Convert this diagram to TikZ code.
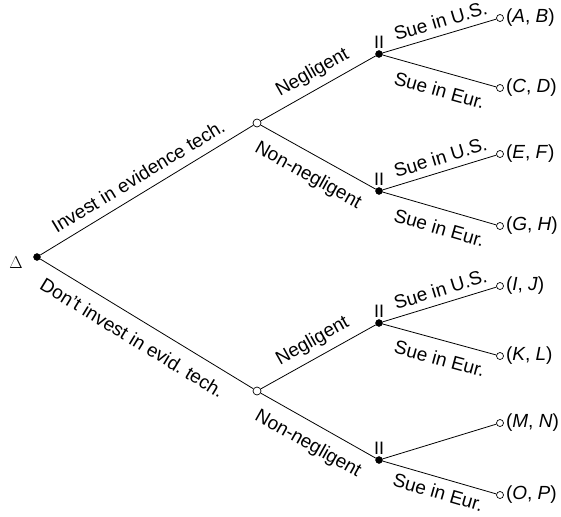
\documentclass[tikz,border=0pt]{standalone}
\usepackage{fontspec}
\setmainfont{Liberation Sans}
\frenchspacing
\begin{document}
\begin{tikzpicture}[x=1pt,y=-1pt,
  dot/.style={circle,fill=black,draw=black,inner sep=0pt,minimum size=7pt},
  chance/.style={circle,fill=white,draw=black,line width=0.7pt,inner sep=0pt,minimum size=8pt},
  term/.style={circle,fill=white,draw=black,line width=0.7pt,inner sep=0pt,minimum size=7pt},
  edge/.style={draw,line width=0.8pt},
  lab/.style={font=\fontsize{19}{22}\selectfont,sloped},
  labA/.style={lab,above,inner sep=#1},
  labB/.style={lab,below,inner sep=#1},
  pay/.style={font=\fontsize{19}{22}\selectfont,anchor=west,inner sep=2pt},
  plab/.style={font=\fontsize{18}{20}\selectfont,inner sep=1.5pt},
  ]
\useasboundingbox (0,0) rectangle (561,516);
% decision and chance nodes
\node[dot] (r) at (37,257) {};
\node (delta) at (16,263) {\fontsize{18}{20}\selectfont$\Delta$};
\node[chance] (c1) at (257,123) {};
\node[chance] (c2) at (257,391) {};
\node[dot,label={[plab]above:II}] (p1) at (379,54) {};
\node[dot,label={[plab]above:II}] (p2) at (379,191) {};
\node[dot,label={[plab]above:II}] (p3) at (379,323) {};
\node[dot,label={[plab]above:II}] (p4) at (379,460) {};
% terminals
\node[term] (t1) at (500,18) {};
\node[term] (t2) at (500,88) {};
\node[term] (t3) at (500,154) {};
\node[term] (t4) at (500,226) {};
\node[term] (t5) at (500,286) {};
\node[term] (t6) at (500,356) {};
\node[term] (t7) at (500,423) {};
\node[term] (t8) at (500,495) {};
% payoffs
\node[pay] (a1) at (t1.east) {(\textit{A}, \textit{B})};
\node[pay] (a2) at (t2.east) {(\textit{C}, \textit{D})};
\node[pay] (a3) at (t3.east) {(\textit{E}, \textit{F})};
\node[pay] (a4) at (t4.east) {(\textit{G}, \textit{H})};
\node[pay] (a5) at (t5.east) {(\textit{I}, \textit{J})};
\node[pay] (a6) at (t6.east) {(\textit{K}, \textit{L})};
\node[pay] (a7) at (t7.east) {(\textit{M}, \textit{N})};
\node[pay] (a8) at (t8.east) {(\textit{O}, \textit{P})};
% edges
\draw[edge] (r) -- node[labA=9pt,pos=0.5]{Invest in evidence tech.} (c1);
\draw[edge] (r) -- node[labB=12pt,pos=0.48]{Don't invest in evid. tech.} (c2);
\draw[edge] (c1) -- node[labA=7pt,pos=0.52]{Negligent} (p1);
\draw[edge] (c1) -- node[labB=12pt,pos=0.5]{Non-negligent} (p2);
\draw[edge] (c2) -- node[labA=7pt,pos=0.52]{Negligent} (p3);
\draw[edge] (c2) -- node[labB=12pt,pos=0.5]{Non-negligent} (p4);
\draw[edge] (p1) -- node[labA=7pt,pos=0.545]{Sue in U.S.} (t1);
\draw[edge] (p1) -- node[labB=11pt,pos=0.545]{Sue in Eur.} (t2);
\draw[edge] (p2) -- node[labA=7pt,pos=0.545]{Sue in U.S.} (t3);
\draw[edge] (p2) -- node[labB=11pt,pos=0.545]{Sue in Eur.} (t4);
\draw[edge] (p3) -- node[labA=7pt,pos=0.545]{Sue in U.S.} (t5);
\draw[edge] (p3) -- node[labB=11pt,pos=0.545]{Sue in Eur.} (t6);
\draw[edge] (p4) -- (t7);
\draw[edge] (p4) -- node[labB=7pt,pos=0.525]{Sue in Eur.} (t8);
\end{tikzpicture}
\end{document}
